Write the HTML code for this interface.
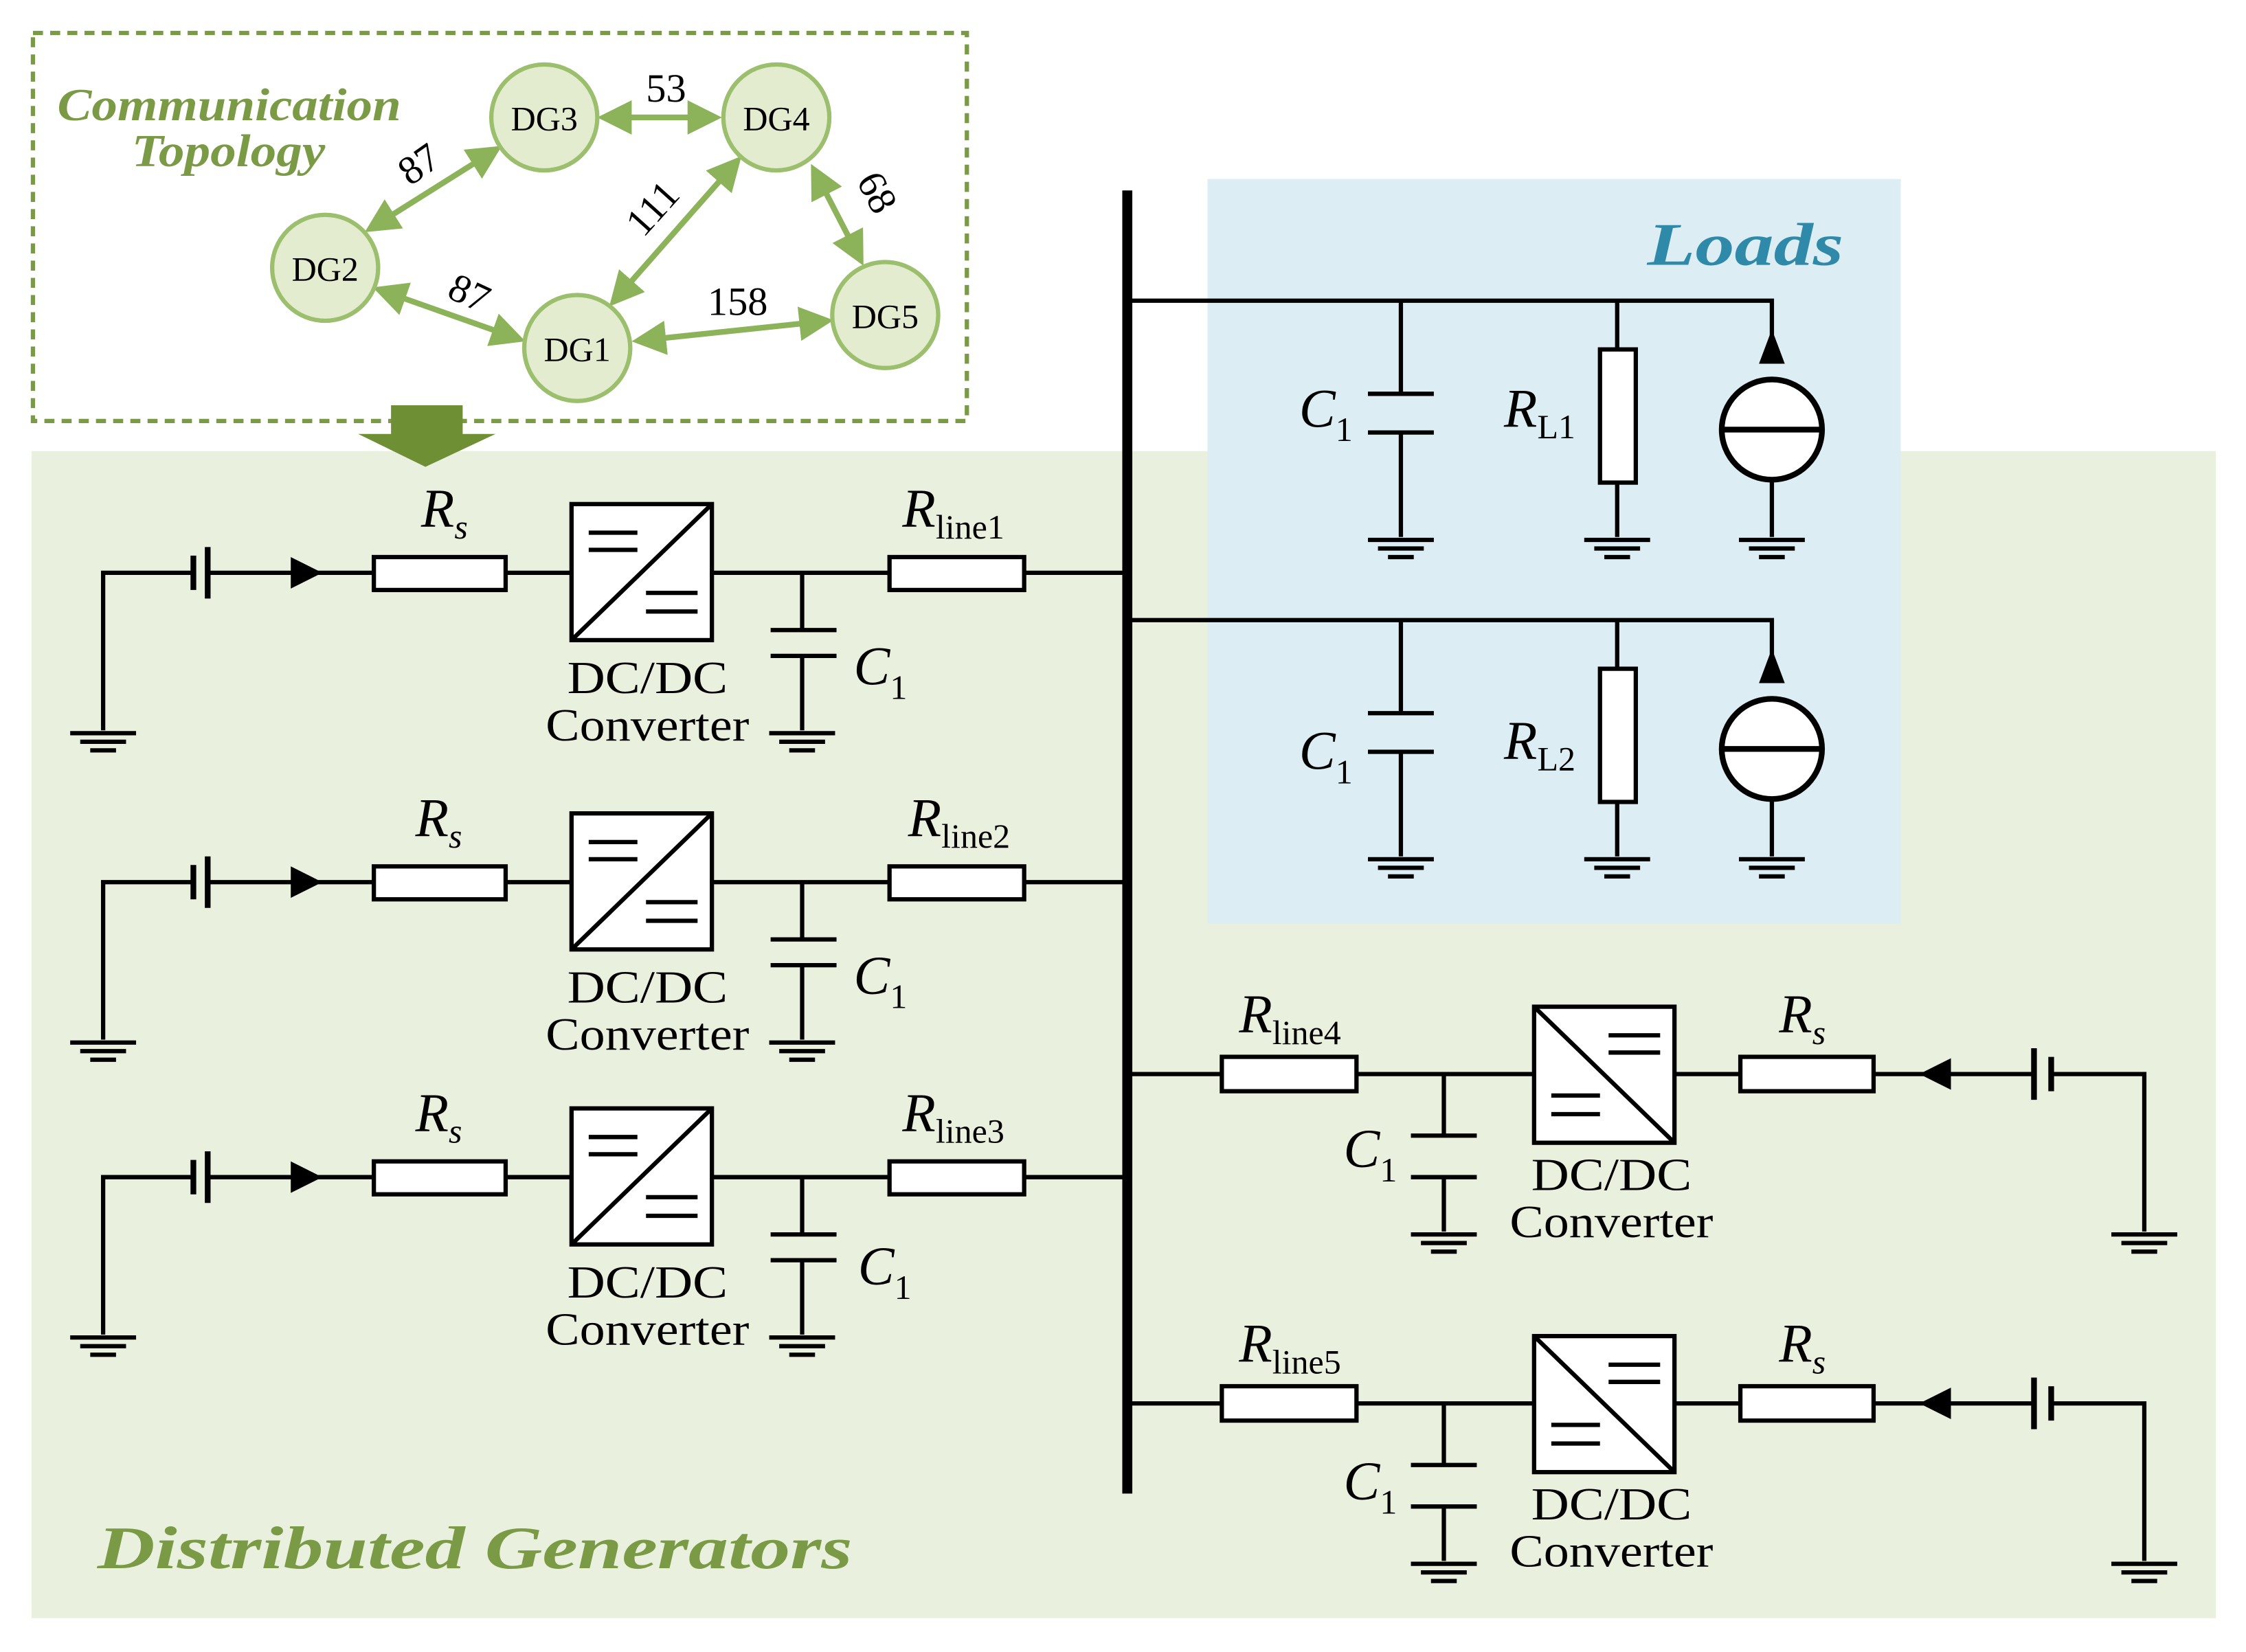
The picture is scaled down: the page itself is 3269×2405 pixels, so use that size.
<!DOCTYPE html>
<html><head><meta charset="utf-8"><style>
html,body{margin:0;padding:0;background:#fff;}
svg{display:block;}
text{font-family:"Liberation Serif",serif;}
</style></head><body>
<svg width="3269" height="2405" viewBox="0 0 1568 1153.6" preserveAspectRatio="none" xmlns="http://www.w3.org/2000/svg">
<defs>
<g id="gnd" stroke="#000" stroke-width="3"><path d="M-23 0H23M-16 6H16M-9 12H9"/></g>
<g id="convL" stroke="#000" stroke-width="3" fill="none"><rect x="0" y="0" width="98" height="95" fill="#fff"/><path d="M0 95L98 0M12 20H46M12 32H46M52 62H88M52 75H88"/></g>
<g id="convR" stroke="#000" stroke-width="3" fill="none"><rect x="0" y="0" width="98" height="95" fill="#fff"/><path d="M0 0L98 95M52 20H88M52 32H88M12 62H46M12 75H46"/></g>
<g id="rowL">
 <g stroke="#000" stroke-width="3" fill="none">
  <path d="M72 510V400H135M145 400H261M353 400H399M497 400H621M715 400H787"/>
  <path d="M135 388V412M145 382V418" stroke-width="4"/>
  <rect x="261" y="389" width="92" height="23" fill="#fff"/>
  <rect x="621" y="389" width="94" height="23" fill="#fff"/>
  <path d="M560 400V440M538 440H584M538 458H584M560 458V510"/>
 </g>
 <polygon points="203,389 225,400 203,411" fill="#000"/>
 <use href="#convL" x="399" y="352"/>
 <use href="#gnd" x="72" y="512"/>
 <use href="#gnd" x="560" y="512"/>
 <text x="452" y="484" font-size="32" text-anchor="middle" textLength="112" lengthAdjust="spacingAndGlyphs">DC/DC</text>
 <text x="452" y="517" font-size="32" text-anchor="middle" textLength="142" lengthAdjust="spacingAndGlyphs">Converter</text>
</g>
<g id="rowR">
 <g stroke="#000" stroke-width="3" fill="none">
  <path d="M787 750H853M947 750H1071M1169 750H1215M1308 750H1420M1432 750H1497V860"/>
  <path d="M1420 732V768M1432 738V762" stroke-width="4"/>
  <rect x="853" y="738" width="94" height="24" fill="#fff"/>
  <rect x="1215" y="738" width="93" height="24" fill="#fff"/>
  <path d="M1008 750V793M985 793H1031M985 822H1031M1008 822V860"/>
 </g>
 <polygon points="1340,750 1362,739 1362,761" fill="#000"/>
 <use href="#convR" x="1071" y="703"/>
 <use href="#gnd" x="1008" y="862"/>
 <use href="#gnd" x="1497" y="862"/>
 <text x="1125" y="831" font-size="32" text-anchor="middle" textLength="112" lengthAdjust="spacingAndGlyphs">DC/DC</text>
 <text x="1125" y="864" font-size="32" text-anchor="middle" textLength="142" lengthAdjust="spacingAndGlyphs">Converter</text>
</g>
<g id="load">
 <g stroke="#000" stroke-width="3" fill="none">
  <path d="M787 210H1237V250M1237 335V375M978 210V275M955 275H1001M955 302H1001M978 302V375M1129 210V244M1129 337V375"/>
  <rect x="1117" y="244" width="25" height="93" fill="#fff"/>
  <circle cx="1237" cy="300" r="35" stroke-width="4" fill="#fff"/>
  <path d="M1202 300H1272" stroke-width="4"/>
 </g>
 <polygon points="1237,230 1228,254 1246,254" fill="#000"/>
 <use href="#gnd" x="978" y="377"/>
 <use href="#gnd" x="1129" y="377"/>
 <use href="#gnd" x="1237" y="377"/>
</g>
<marker id="ah" markerWidth="6" markerHeight="6" refX="5" refY="3" orient="auto-start-reverse" markerUnits="strokeWidth"><path d="M0 0L6 3L0 6z" fill="#8db35a"/></marker>
</defs>

<rect x="22" y="315" width="1525" height="815" fill="#eaf0de"/>
<rect x="843" y="125" width="484" height="520" fill="#dcedf3"/>
<rect x="23" y="23" width="652" height="271" fill="none" stroke="#7a9a45" stroke-width="3" stroke-dasharray="7,5"/>
<polygon points="273,283 323,283 323,303 346,303 297,326 250,303 273,303" fill="#6f8f35"/>

<g stroke="#8db35a" stroke-width="4" fill="none" marker-start="url(#ah)" marker-end="url(#ah)">
 <path d="M258 160L347 104"/>
 <path d="M421 82H500"/>
 <path d="M264 202L363 237"/>
 <path d="M428 211L515 112"/>
 <path d="M568 118L601 182"/>
 <path d="M445 238L578 224"/>
</g>
<g fill="#e3eccf" stroke="#9bbf6d" stroke-width="3">
 <circle cx="380" cy="82" r="37"/><circle cx="542" cy="82" r="37"/>
 <circle cx="227" cy="187" r="37"/><circle cx="403" cy="243" r="37"/>
 <circle cx="618" cy="220" r="37"/>
</g>
<g font-size="24" text-anchor="middle">
 <text x="380" y="91">DG3</text><text x="542" y="91">DG4</text>
 <text x="227" y="196">DG2</text><text x="403" y="252">DG1</text>
 <text x="618" y="229">DG5</text>
</g>
<g font-size="28" text-anchor="middle">
 <text x="465" y="71">53</text>
 <text x="292" y="124" transform="rotate(-35 292 114)">87</text>
 <text x="328" y="214" transform="rotate(25 328 204)">87</text>
 <text x="455" y="155" transform="rotate(-48 455 145)">111</text>
 <text x="613" y="144" transform="rotate(62 613 134)">68</text>
 <text x="515" y="220">158</text>
</g>
<g font-size="32" font-weight="bold" font-style="italic" fill="#7a9a45">
 <text x="40" y="84" textLength="240" lengthAdjust="spacingAndGlyphs">Communication</text>
 <text x="92" y="116" textLength="135" lengthAdjust="spacingAndGlyphs">Topology</text>
</g>
<text x="1150" y="185" font-size="42" font-weight="bold" font-style="italic" fill="#2e8aa8" textLength="137" lengthAdjust="spacingAndGlyphs">Loads</text>
<text x="68" y="1095" font-size="42" font-weight="bold" font-style="italic" fill="#7a9a45" textLength="527" lengthAdjust="spacingAndGlyphs">Distributed Generators</text>

<use href="#rowL"/>
<use href="#rowL" y="216"/>
<use href="#rowL" y="422"/>
<use href="#rowR"/>
<use href="#rowR" y="230"/>
<use href="#load"/>
<use href="#load" y="223"/>

<path d="M787 133V1043" stroke="#000" stroke-width="7"/>

<g font-size="38" font-style="italic">
 <text x="294" y="368">R<tspan font-size="24" dy="8">s</tspan></text>
 <text x="290" y="584">R<tspan font-size="24" dy="8">s</tspan></text>
 <text x="290" y="790">R<tspan font-size="24" dy="8">s</tspan></text>
 <text x="1242" y="721">R<tspan font-size="24" dy="8">s</tspan></text>
 <text x="1242" y="951">R<tspan font-size="24" dy="8">s</tspan></text>
 <text x="630" y="368">R<tspan font-size="24" dy="8" font-style="normal">line1</tspan></text>
 <text x="634" y="584">R<tspan font-size="24" dy="8" font-style="normal">line2</tspan></text>
 <text x="630" y="790">R<tspan font-size="24" dy="8" font-style="normal">line3</tspan></text>
 <text x="865" y="721">R<tspan font-size="24" dy="8" font-style="normal">line4</tspan></text>
 <text x="865" y="951">R<tspan font-size="24" dy="8" font-style="normal">line5</tspan></text>
 <text x="596" y="478">C<tspan font-size="24" dy="10" font-style="normal">1</tspan></text>
 <text x="596" y="694">C<tspan font-size="24" dy="10" font-style="normal">1</tspan></text>
 <text x="599" y="897">C<tspan font-size="24" dy="10" font-style="normal">1</tspan></text>
 <text x="938" y="815">C<tspan font-size="24" dy="10" font-style="normal">1</tspan></text>
 <text x="938" y="1047">C<tspan font-size="24" dy="10" font-style="normal">1</tspan></text>
 <text x="907" y="298">C<tspan font-size="24" dy="10" font-style="normal">1</tspan></text>
 <text x="907" y="537">C<tspan font-size="24" dy="10" font-style="normal">1</tspan></text>
 <text x="1050" y="298">R<tspan font-size="24" dy="8" font-style="normal">L1</tspan></text>
 <text x="1050" y="530">R<tspan font-size="24" dy="8" font-style="normal">L2</tspan></text>
</g>
</svg>
</body></html>
